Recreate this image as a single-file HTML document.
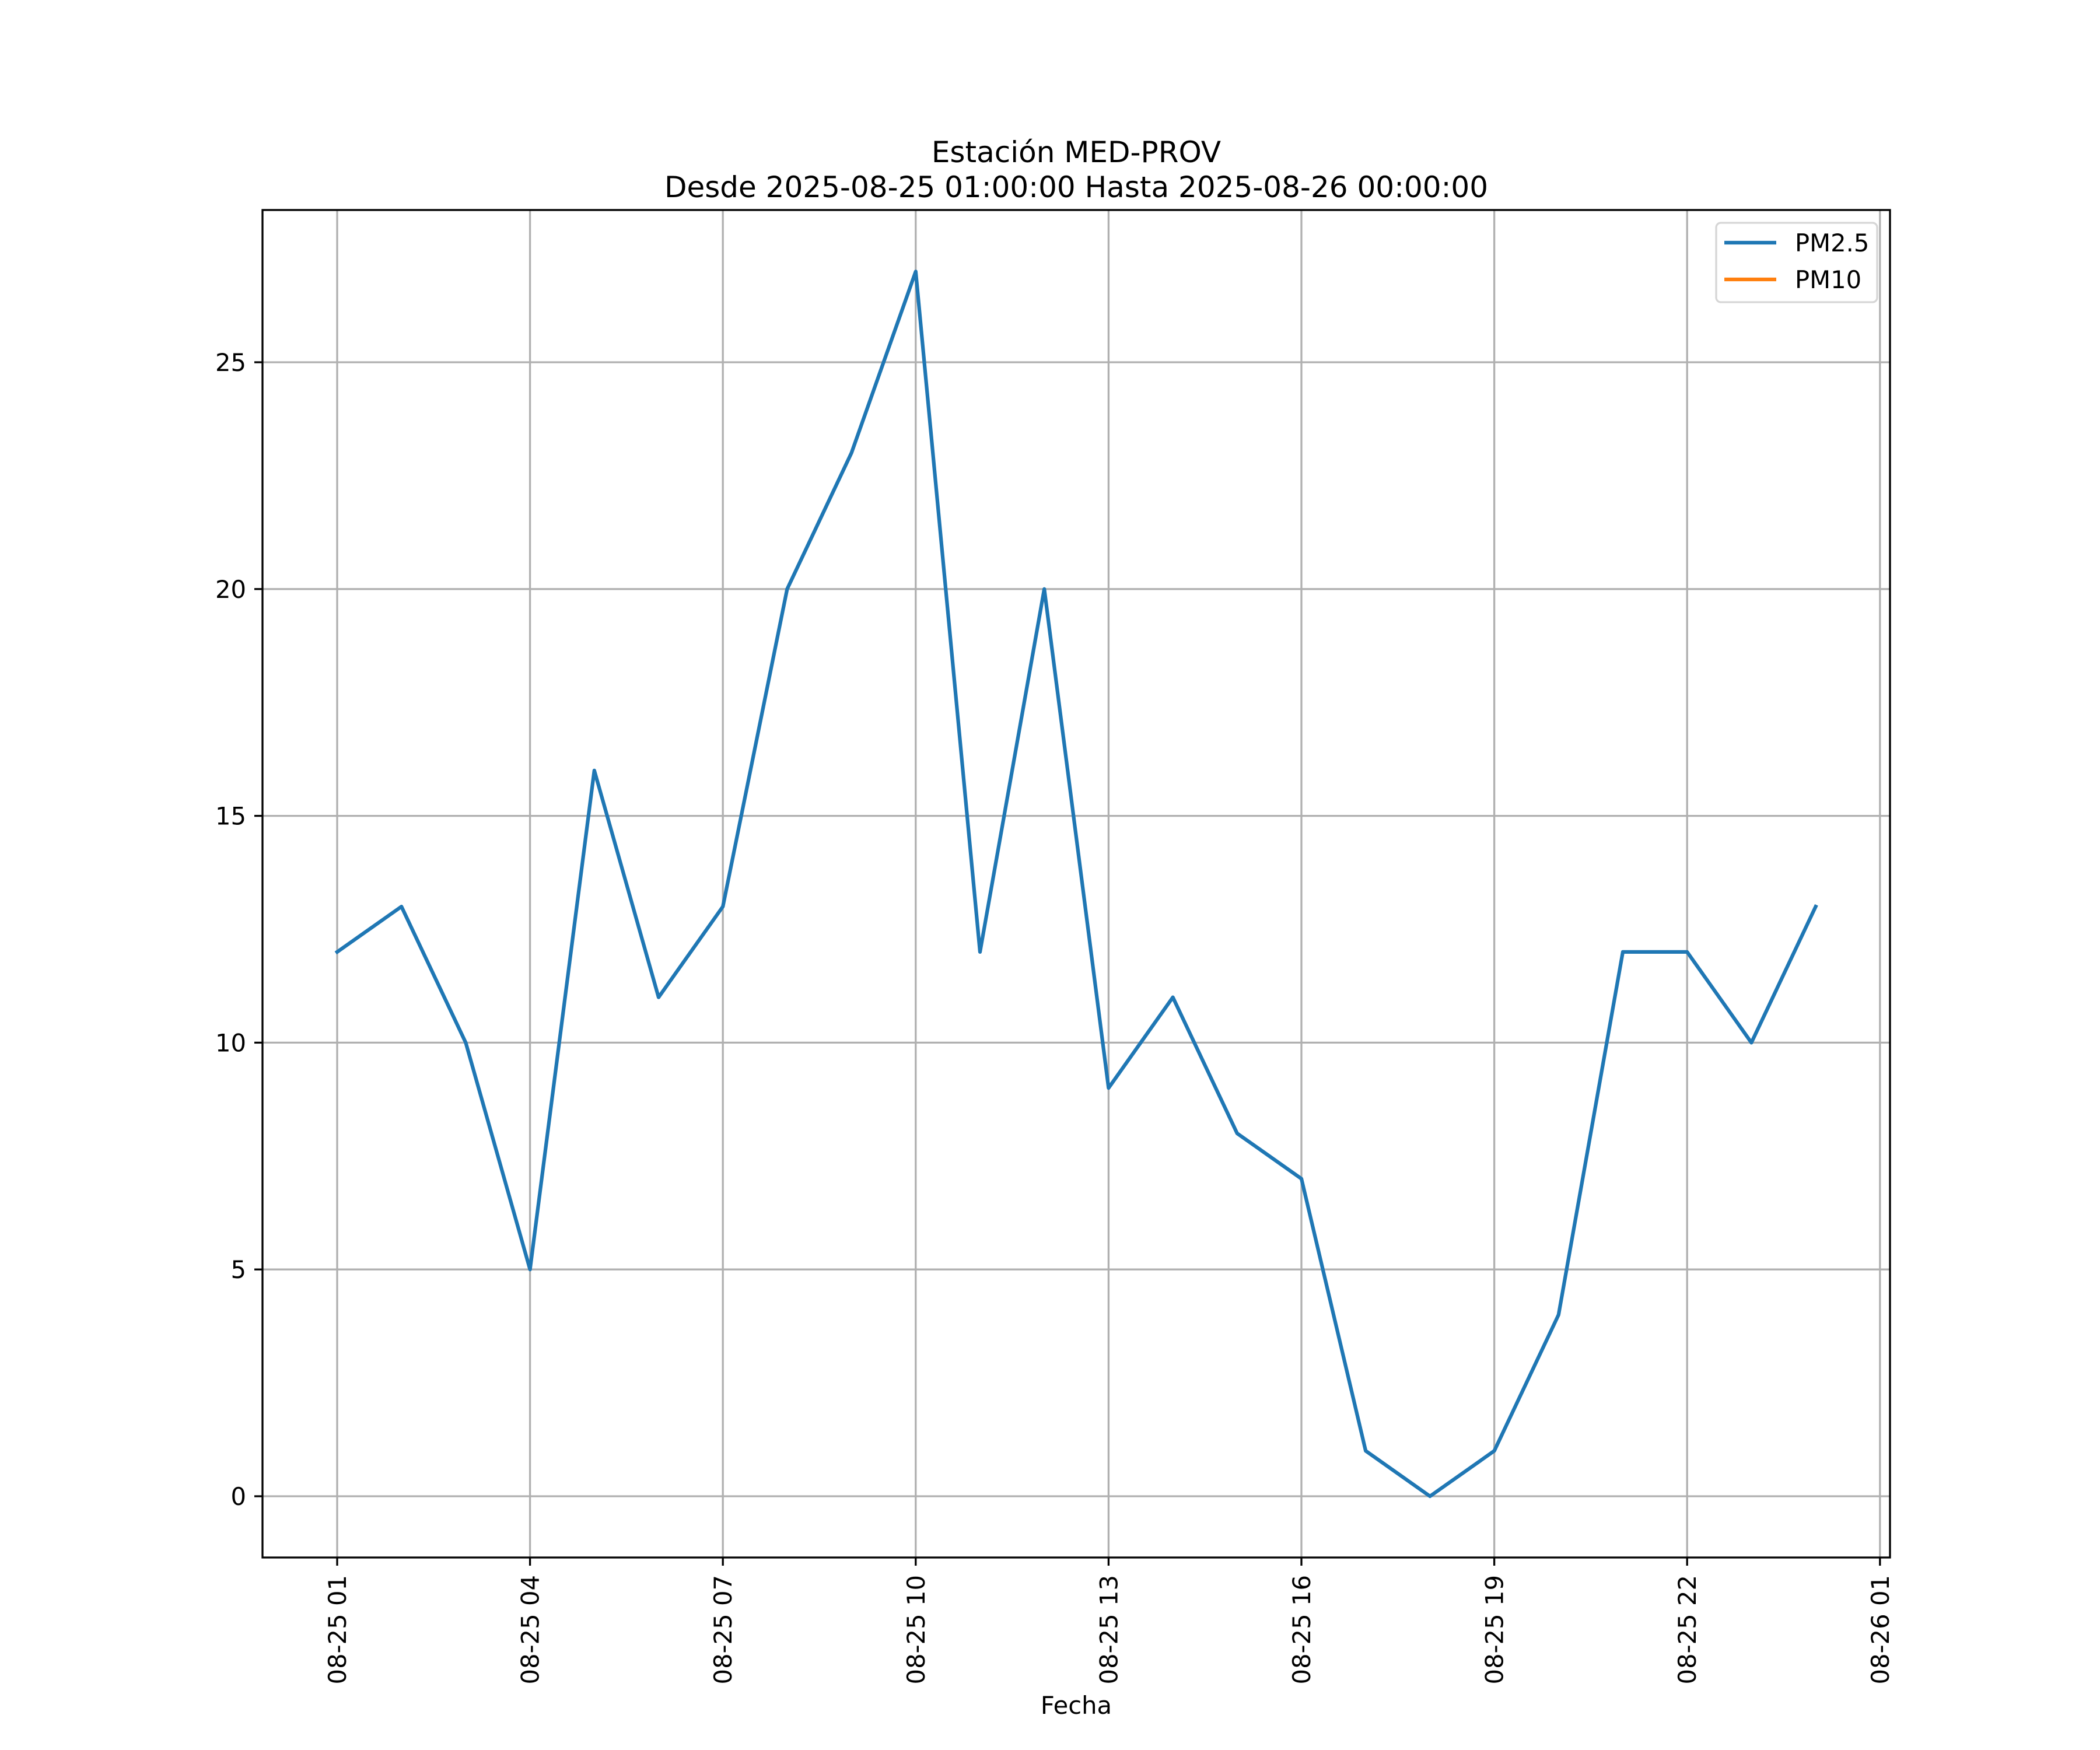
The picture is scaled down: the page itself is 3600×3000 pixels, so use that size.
<!DOCTYPE html>
<html><head><meta charset="utf-8"><style>
html,body{margin:0;padding:0;background:#fff;}
svg{display:block;font-family:"DejaVu Sans","Liberation Sans",sans-serif;}
</style></head><body>
<svg id="chart" width="3600" height="3000" viewBox="0 0 3600 3000">
<rect width="3600" height="3000" fill="#fff"/>
<text x="1845" y="278" font-size="50" text-anchor="middle">Estación MED-PROV</text>
<text x="1845" y="338" font-size="50" text-anchor="middle">Desde 2025-08-25 01:00:00 Hasta 2025-08-26 00:00:00</text>
<g id="grid"></g>
<g id="series"></g>
<rect x="450" y="360" width="2790" height="2310" fill="none" stroke="#000" stroke-width="3.3"/>
<g id="ticks"></g>
<text x="1845" y="2938" font-size="41.7" text-anchor="middle">Fecha</text>
<g>
<rect x="2942" y="382" width="276" height="136" rx="8" fill="#fff" fill-opacity="0.8" stroke="#d6d6d6" stroke-width="3.3"/>
<line x1="2956" y1="416" x2="3045" y2="416" stroke="#1f77b4" stroke-width="6.25"/>
<text x="3077" y="431" font-size="41.7">PM2.5</text>
<line x1="2956" y1="479" x2="3045" y2="479" stroke="#ff7f0e" stroke-width="6.25"/>
<text x="3077" y="494" font-size="41.7">PM10</text>
</g>
</svg>
<script>
const hours = [1,2,3,4,5,6,7,8,9,10,11,12,13,14,15,16,17,18,19,20,21,22,23,24];
const pm25 = [12,13,10,5,16,11,13,20,23,27,12,20,9,11,8,7,1,0,1,4,12,12,10,13];
const pm10 = [];
const xTicks = [1,4,7,10,13,16,19,22,25];
const xTickLabels = ["08-25 01","08-25 04","08-25 07","08-25 10","08-25 13","08-25 16","08-25 19","08-25 22","08-26 01"];
const yTicks = [0,5,10,15,20,25];

const NS = "http://www.w3.org/2000/svg";
function xs(h){ return 578 + (h-1)*110.2; }
function ys(v){ return 2565 - v*77.76; }
function mk(tag, attrs, parent){
  const e = document.createElementNS(NS, tag);
  for (const k in attrs) e.setAttribute(k, attrs[k]);
  parent.appendChild(e); return e;
}
const grid = document.getElementById('grid');
const ticks = document.getElementById('ticks');
const series = document.getElementById('series');
xTicks.forEach((h,i)=>{
  const x = xs(h);
  const g = mk('line',{x1:x,y1:360,x2:x,y2:2670,stroke:'#b0b0b0','stroke-width':3.3},grid);
  
  
  const t = mk('line',{x1:x,y1:2670,x2:x,y2:2684,stroke:'#000','stroke-width':3.3},ticks);
  
  
  const l = mk('text',{x:0,y:0,'font-size':41.7,'text-anchor':'end',transform:`translate(${x+15},2700) rotate(-90)`},ticks);
  l.textContent = xTickLabels[i];
  
  
});
yTicks.forEach(v=>{
  const y = ys(v);
  const g = mk('line',{x1:450,y1:y,x2:3240,y2:y,stroke:'#b0b0b0','stroke-width':3.3},grid);
  
  
  const t = mk('line',{x1:436,y1:y,x2:450,y2:y,stroke:'#000','stroke-width':3.3},ticks);
  
  
  const l = mk('text',{x:422,y:y+15,'font-size':41.7,'text-anchor':'end'},ticks);
  l.textContent = String(v);
  
  
});
const pts = pm25.map((v,i)=>xs(hours[i])+','+ys(v)).join(' ');
const pl = mk('polyline',{points:pts,fill:'none',stroke:'#1f77b4','stroke-width':6.25,'stroke-linejoin':'round','stroke-linecap':'square'},series);


if (pm10.length){
  const p2 = mk('polyline',{points:pm10.map((v,i)=>xs(hours[i])+','+ys(v)).join(' '),fill:'none',stroke:'#ff7f0e','stroke-width':6.25},series);
  
  
}
</script>
</body></html>
